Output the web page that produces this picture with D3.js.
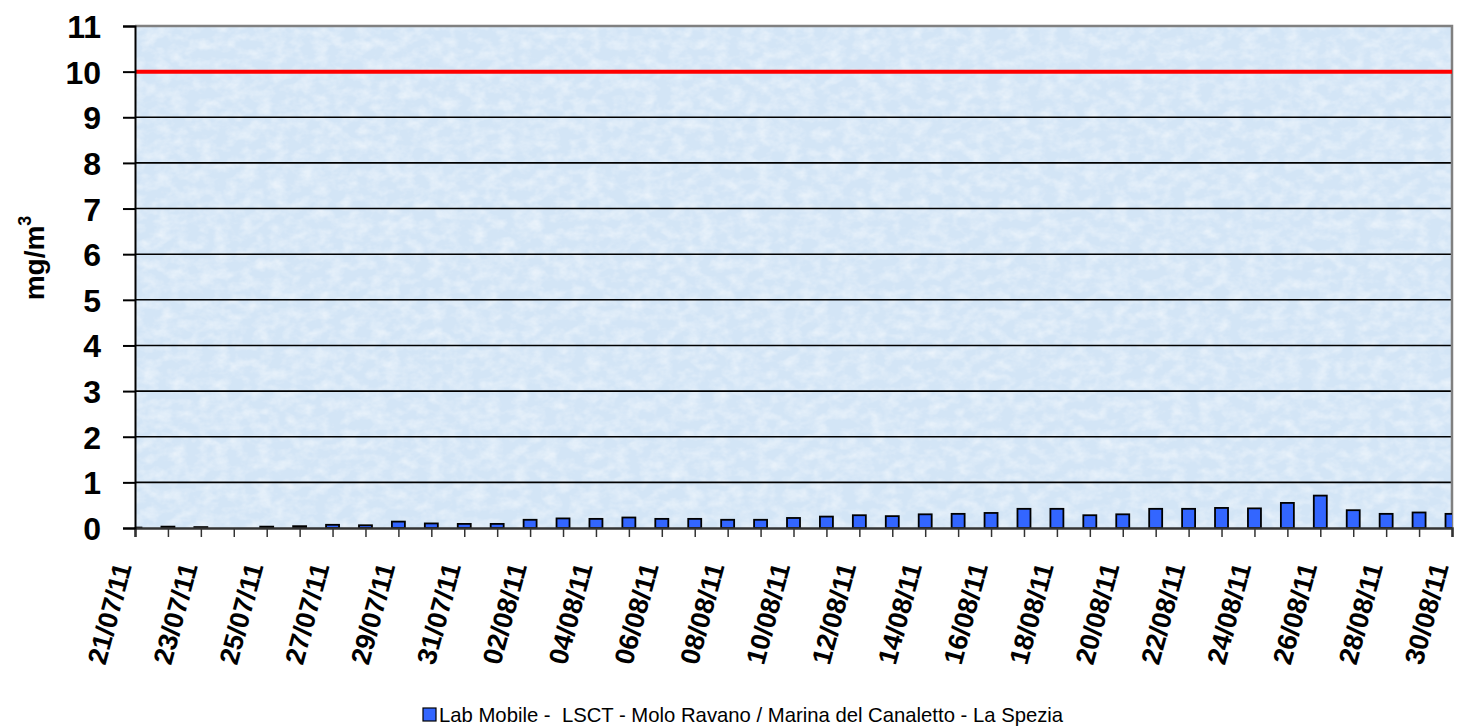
<!DOCTYPE html>
<html lang="it">
<head>
  <meta charset="UTF-8">
  <title>Lab Mobile - LSCT - mg/m3</title>
  <script src="https://d3js.org/d3.v7.min.js"></script>
  <style>
    body { margin: 0; background: #fff; }
    svg { display: block; font-family: "Liberation Sans", Arial, sans-serif; }
    .ytick text { font-size: 32px; font-weight: bold; fill: #000; }
    .xlabel { font-size: 27px; font-weight: bold; fill: #000; }
    .ytitle { font-size: 28px; font-weight: bold; }
    .legend text { font-size: 20.3px; fill: #000; }
  </style>
</head>
<body>
  <div id="chart"></div>
  <script>
    // dates (dd/mm/yy) and daily values in mg/m3
    const dates = [
      "21/07/11", "22/07/11", "23/07/11", "24/07/11", "25/07/11", "26/07/11", "27/07/11",
      "28/07/11", "29/07/11", "30/07/11", "31/07/11", "01/08/11", "02/08/11", "03/08/11",
      "04/08/11", "05/08/11", "06/08/11", "07/08/11", "08/08/11", "09/08/11", "10/08/11",
      "11/08/11", "12/08/11", "13/08/11", "14/08/11", "15/08/11", "16/08/11", "17/08/11",
      "18/08/11", "19/08/11", "20/08/11", "21/08/11", "22/08/11", "23/08/11", "24/08/11",
      "25/08/11", "26/08/11", "27/08/11", "28/08/11", "29/08/11", "30/08/11"
    ];
    const values = [
      0.01, 0.03, 0.02, null, 0.03, 0.04, 0.07,
      0.06, 0.14, 0.10, 0.09, 0.09, 0.18, 0.21,
      0.20, 0.23, 0.20, 0.20, 0.18, 0.18, 0.22,
      0.25, 0.28, 0.26, 0.30, 0.31, 0.33, 0.42,
      0.42, 0.28, 0.30, 0.42, 0.42, 0.44, 0.43,
      0.55, 0.71, 0.39, 0.31, 0.34, 0.31
    ];
    const xLabels = dates.filter((d, i) => i % 2 === 0);
    const yTicks = [0, 1, 2, 3, 4, 5, 6, 7, 8, 9, 10, 11];
    const limitValue = 10;
    const seriesName = "Lab Mobile -  LSCT - Molo Ravano / Marina del Canaletto - La Spezia";

    const W = 1457, H = 728;
    const pL = 135, pR = 1452, pT = 26, pB = 528;

    const svg = d3.select("#chart").append("svg")
      .attr("width", W).attr("height", H);

    const defs = svg.append("defs");
    defs.append("clipPath").attr("id", "plotclip")
      .append("rect").attr("x", pL).attr("y", pT)
      .attr("width", pR - pL).attr("height", pB - pT);

    // mottled texture for the plot background
    const f = defs.append("filter").attr("id", "tex")
      .attr("x", 0).attr("y", 0).attr("width", 1).attr("height", 1);
    f.append("feTurbulence").attr("type", "fractalNoise")
      .attr("baseFrequency", "0.07 0.1").attr("numOctaves", 3).attr("seed", 4);
    f.append("feColorMatrix").attr("type", "matrix")
      .attr("values", "0 0 0 0 1  0 0 0 0 1  0 0 0 0 1  1.6 0 0 0 -0.6");
    f.append("feComposite").attr("in2", "SourceGraphic").attr("operator", "in");

    const x = d3.scalePoint().domain(dates).range([pL, pR]);
    const y = d3.scaleLinear().domain([0, 11]).range([pB, pT]);

    // plot background
    svg.append("rect")
      .attr("x", pL).attr("y", pT)
      .attr("width", pR - pL).attr("height", pB - pT)
      .attr("fill", "#d3e5f6");
    svg.append("rect")
      .attr("x", pL).attr("y", pT)
      .attr("width", pR - pL).attr("height", pB - pT)
      .attr("fill", "#fff").attr("opacity", 0.6)
      .attr("filter", "url(#tex)");

    // gridlines
    svg.append("g")
      .selectAll("line")
      .data(yTicks.filter(v => v > 0 && v < 11 && v !== limitValue))
      .join("line")
      .attr("x1", pL).attr("x2", pR)
      .attr("y1", d => y(d)).attr("y2", d => y(d))
      .attr("stroke", "#000").attr("stroke-width", 1.6);

    // frame (top / right)
    svg.append("path")
      .attr("d", `M${pL},${y(11)}H${pR}V${pB}`)
      .attr("fill", "none").attr("stroke", "#808080").attr("stroke-width", 2.5);

    // limit line
    svg.append("line")
      .attr("x1", pL).attr("x2", pR)
      .attr("y1", y(limitValue)).attr("y2", y(limitValue))
      .attr("stroke", "#ff0000").attr("stroke-width", 4);

    // bars
    const bw = 13;
    svg.append("g").attr("clip-path", "url(#plotclip)")
      .selectAll("rect")
      .data(dates.map((d, i) => ({ d, v: values[i] })).filter(o => o.v != null))
      .join("rect")
      .attr("x", o => x(o.d) - bw / 2)
      .attr("y", o => y(o.v))
      .attr("width", bw)
      .attr("height", o => y(0) - y(o.v))
      .attr("fill", "#3366ff")
      .attr("stroke", "#000").attr("stroke-width", 1.8);

    // x axis
    const xAxis = svg.append("g")
      .attr("transform", `translate(0,${pB})`)
      .call(d3.axisBottom(x).tickSize(9).tickFormat(""));
    xAxis.select(".domain").attr("stroke", "#333").attr("stroke-width", 2.5);
    xAxis.selectAll(".tick line").attr("stroke", "#333").attr("stroke-width", 1.5);

    svg.append("g").selectAll("text")
      .data(xLabels)
      .join("text")
      .attr("class", "xlabel")
      .attr("text-anchor", "end")
      .attr("transform", d => `translate(${x(d) - 3},${pB + 38}) rotate(-75)`)
      .text(d => d);

    // y axis
    const yAxis = svg.append("g")
      .attr("class", "ytick")
      .attr("transform", `translate(${pL},0)`)
      .call(d3.axisLeft(y).tickValues(yTicks).tickSize(12).tickPadding(22)
        .tickFormat(d3.format("d")));
    yAxis.select(".domain").attr("stroke", "#000").attr("stroke-width", 2);
    yAxis.selectAll(".tick line").attr("stroke", "#000").attr("stroke-width", 2);
    yAxis.selectAll(".tick text").attr("dy", "0.36em");

    // y title
    const yt = svg.append("text")
      .attr("class", "ytitle")
      .attr("text-anchor", "middle")
      .attr("transform", "translate(44,258) rotate(-90)");
    yt.append("tspan").text("mg/m");
    yt.append("tspan").attr("dy", -13).attr("font-size", 18).text("3");

    // legend
    const lg = svg.append("g").attr("class", "legend");
    lg.append("rect")
      .attr("x", 423).attr("y", 708).attr("width", 13).attr("height", 13)
      .attr("fill", "#3366ff").attr("stroke", "#000").attr("stroke-width", 1.2);
    lg.append("text")
      .attr("x", 439).attr("y", 722)
      .attr("xml:space", "preserve")
      .style("white-space", "pre")
      .text(seriesName);
  </script>
</body>
</html>
